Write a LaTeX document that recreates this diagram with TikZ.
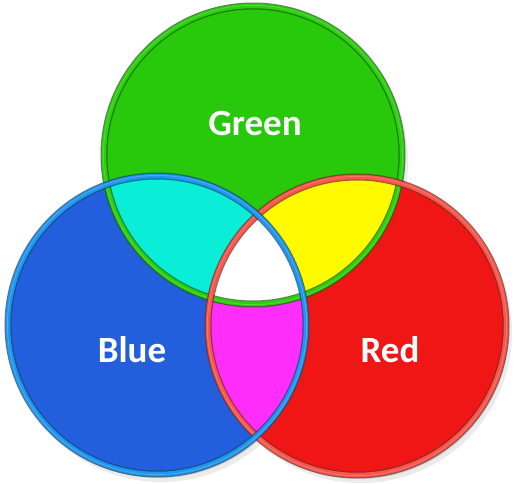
\documentclass[tikz,border=0pt]{standalone}
\usepackage{fontspec}
\setmainfont{Carlito}

\definecolor{greencolor}{RGB}{40, 200, 10}
\definecolor{bluecolor}{RGB}{35, 95, 220}
\definecolor{redcolor}{RGB}{240, 22, 22}
\definecolor{cyancolor}{RGB}{10, 238, 215}
\definecolor{yellowcolor}{RGB}{255, 250, 0}
\definecolor{magentacolor}{RGB}{255, 45, 250}
\definecolor{greenring}{RGB}{45, 205, 15}
\definecolor{bluering}{RGB}{30, 150, 240}
\definecolor{redring}{RGB}{248, 85, 75}

\tikzset{
    ringedge/.style={line width=7pt, draw=#1!50!black},
    ring/.style={line width=4.5pt, draw=#1},
    ringshine/.style={line width=0.8pt, draw=#1!80!white},
    label/.style={text=white, font=\bfseries\fontsize{37}{40}\selectfont}
}

\begin{document}
\begin{tikzpicture}[x=1pt, y=-1pt]

    % ==========================================
    % --- Canvas ---
    % ==========================================
    \fill[white] (0,0) rectangle (514,484);
    \useasboundingbox (0,0) rectangle (514,484);

    % circle centres
    \coordinate (gc) at (253,155);
    \coordinate (bc) at (157,325);
    \coordinate (rc) at (357,326);
    \def\rad{149pt}

    % Soft drop shadows
    \foreach \c in {gc,bc,rc} {
        \fill[black, opacity=0.08] ([shift={(4,6)}]\c) circle (\rad+2pt);
        \fill[black, opacity=0.10] ([shift={(2,3)}]\c) circle (\rad+1pt);
    }

    % ==========================================
    % --- Primary fills ---
    % ==========================================
    \fill[bluecolor] (bc) circle (\rad);
    \fill[redcolor] (rc) circle (\rad);
    \fill[greencolor] (gc) circle (\rad);

    % --- Mixed regions ---
    \begin{scope}
        \clip (gc) circle (\rad);
        \fill[cyancolor] (bc) circle (\rad);   % green + blue
        \fill[yellowcolor] (rc) circle (\rad); % green + red
    \end{scope}
    \begin{scope}
        \clip (bc) circle (\rad);
        \fill[magentacolor] (rc) circle (\rad); % blue + red
    \end{scope}
    \begin{scope}
        \clip (gc) circle (\rad);
        \clip (bc) circle (\rad);
        \fill[white] (rc) circle (\rad); % all three
    \end{scope}

    % ==========================================
    % --- Rings (green under red under blue) ---
    % ==========================================
    \foreach \c/\col in {gc/greenring, rc/redring, bc/bluering} {
        \draw[ringedge=\col, opacity=0.75] (\c) circle (\rad);
        \draw[ring=\col] (\c) circle (\rad);
        \draw[ringshine=\col] (\c) circle (\rad+0.6pt);
    }

    % Labels
    \node[label] (green) at (255,124) {Green};
    \node[label] (blue) at (132,350) {Blue};
    \node[label] (red) at (390,350) {Red};

\end{tikzpicture}
\end{document}
